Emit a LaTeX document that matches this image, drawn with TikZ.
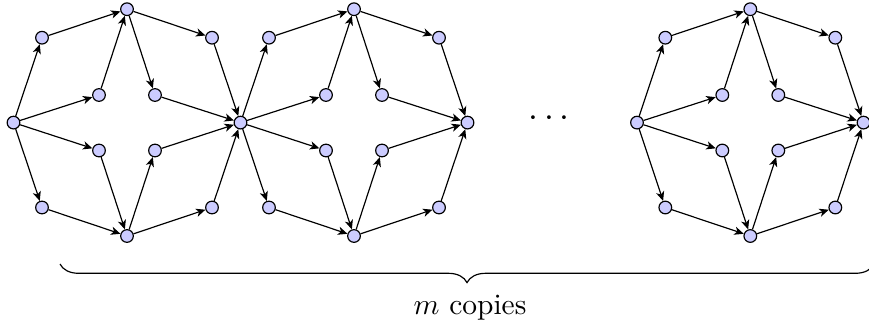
\documentclass[tikz,border=0pt]{standalone}
\usetikzlibrary{arrows.meta,decorations.pathreplacing}
\definecolor{vfill}{RGB}{204,204,255}
\tikzset{
  vert/.style={circle,draw=black,fill=vfill,line width=0.4pt,inner sep=0pt,minimum size=4.3pt},
  arc/.style={-{Stealth[length=3.2pt,width=2.8pt,inset=0.9pt]},line width=0.4pt},
  bracestyle/.style={decorate,decoration={brace,mirror,amplitude=6.3pt},line width=0.4pt}
}
\newcommand{\gadgetnodes}[2]{%
  \node[vert] (#1T) at (#2,9.2) {};
  \node[vert] (#1B) at (#2,236) {};
  \node[vert] (#1a) at (#2-85,37.7) {};
  \node[vert] (#1b) at (#2+85,37.7) {};
  \node[vert] (#1c) at (#2-85,207.5) {};
  \node[vert] (#1d) at (#2+85,207.5) {};
  \node[vert] (#1p) at (#2-28,95) {};
  \node[vert] (#1q) at (#2+28,95) {};
  \node[vert] (#1r) at (#2-28,150.5) {};
  \node[vert] (#1s) at (#2+28,150.5) {};
}
\newcommand{\gadgetedges}[3]{%
  \draw[arc] (#1) -- (#2a); \draw[arc] (#2a) -- (#2T);
  \draw[arc] (#2T) -- (#2b); \draw[arc] (#2b) -- (#3);
  \draw[arc] (#1) -- (#2p); \draw[arc] (#2p) -- (#2T);
  \draw[arc] (#2T) -- (#2q); \draw[arc] (#2q) -- (#3);
  \draw[arc] (#1) -- (#2r); \draw[arc] (#2r) -- (#2B);
  \draw[arc] (#2B) -- (#2s); \draw[arc] (#2s) -- (#3);
  \draw[arc] (#1) -- (#2c); \draw[arc] (#2c) -- (#2B);
  \draw[arc] (#2B) -- (#2d); \draw[arc] (#2d) -- (#3);
}
\begin{document}
\begin{tikzpicture}[x=0.339pt,y=-0.339pt]
\useasboundingbox (0,0) rectangle (869,327);
\node[vert] (v0) at (13.5,122.6) {};
\node[vert] (v1) at (240.5,122.6) {};
\node[vert] (v2) at (467.5,122.6) {};
\node[vert] (w0) at (637,122.6) {};
\node[vert] (w1) at (863.5,122.6) {};
\gadgetnodes{g1}{127}
\gadgetnodes{g2}{354}
\gadgetnodes{g3}{750.3}
\gadgetedges{v0}{g1}{v1}
\gadgetedges{v1}{g2}{v2}
\gadgetedges{w0}{g3}{w1}
\node (dots) at (549,119) {\fontsize{13}{15}\selectfont$\cdots$};
\coordinate (brl) at (60,264);
\coordinate (brr) at (874,264);
\draw[bracestyle] (brl) -- (brr);
\node[anchor=base] (lab) at (470,314) {$m$ copies};
\end{tikzpicture}
\end{document}
